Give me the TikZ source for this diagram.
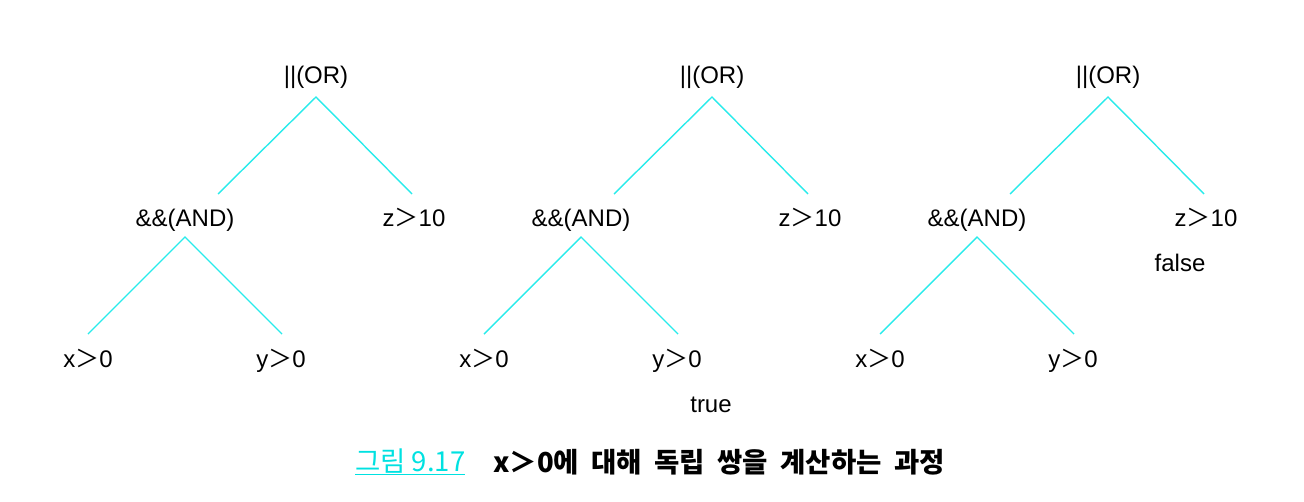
\documentclass[tikz,border=0pt]{standalone}
\usepackage{fontspec}
\setmainfont{Liberation Sans}
\newfontfamily\kr{Noto Sans CJK KR}
\newcommand{\gt}{{\kr ＞}}
\newcommand{\ksp}{\hspace{0.45em}}
\definecolor{edgecyan}{RGB}{40,235,235}
\definecolor{capcyan}{RGB}{0,225,225}
\tikzset{
  lbl/.style={font=\fontsize{24}{26}\selectfont, inner sep=0pt, text=black, text height=17pt, text depth=5pt},
  edge/.style={draw=edgecyan, line width=1.4pt},
}
\begin{document}
\begin{tikzpicture}[x=1pt,y=-1pt]
\useasboundingbox (0,0) rectangle (1304,501);
\foreach \i/\dx in {1/0, 2/396, 3/792}{
  \begin{scope}[xshift=\dx pt]
    \node[lbl] (or\i) at (316,77) {||(OR)};
    \node[lbl] (and\i) at (185,220) {\&\&(AND)};
    \node[lbl] (z\i) at (414,220) {z\gt10};
    \node[lbl] (x\i) at (88,361) {x\gt0};
    \node[lbl] (y\i) at (281,361) {y\gt0};
    \coordinate (ora\i) at (316,97);
    \coordinate (orl\i) at (218,194);
    \coordinate (orr\i) at (412,194);
    \coordinate (anda\i) at (185,237);
    \coordinate (andl\i) at (88,334);
    \coordinate (andr\i) at (282,334);
    \draw[edge] (orl\i) -- (ora\i) -- (orr\i);
    \draw[edge] (andl\i) -- (anda\i) -- (andr\i);
  \end{scope}
}
\node[lbl] (true) at (711,406) {true};
\node[lbl] (false) at (1180,265) {false};
\node[font=\kr\fontsize{27.5}{30}\selectfont, text=capcyan, inner sep=0pt, anchor=west] (fig) at (355,462) {\underline{그림 9.17}};
\node[font=\kr\bfseries\fontsize{27.5}{30}\selectfont, inner sep=0pt, anchor=west] (cap) at (493,462) {x＞0에\ksp 대해\ksp 독립\ksp 쌍을\ksp 계산하는\ksp 과정};
\end{tikzpicture}
\end{document}
